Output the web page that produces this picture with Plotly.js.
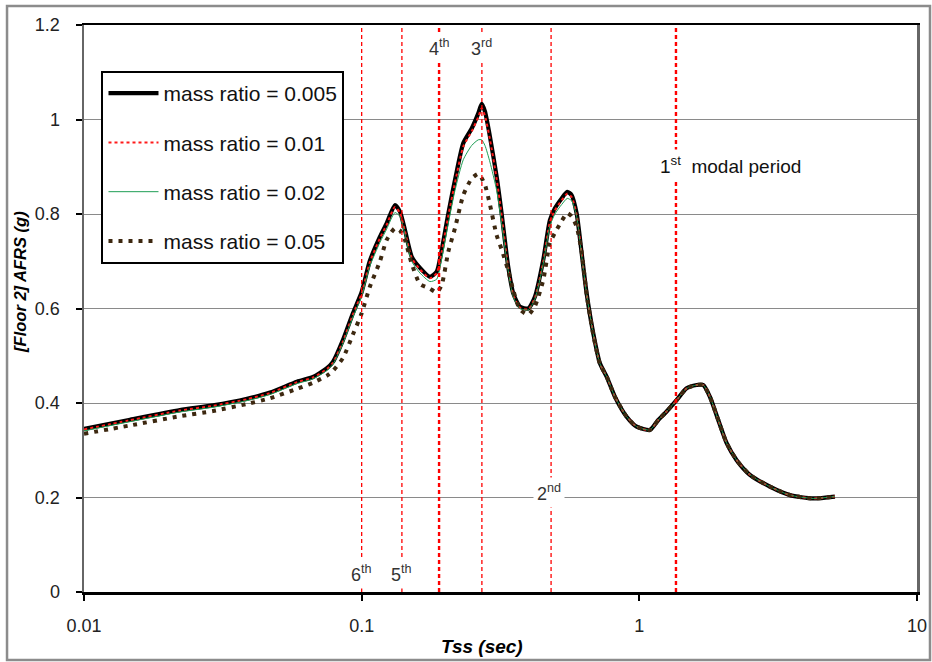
<!DOCTYPE html>
<html>
<head>
<meta charset="utf-8">
<script src="https://cdn.plot.ly/plotly-3.0.1.min.js"></script>
<style>
  html, body { margin: 0; padding: 0; background: #ffffff; }
  #chart { width: 932px; height: 662px; }
</style>
</head>
<body>
<div id="chart"></div>
<script>
// ---------------- DATA ----------------
const periods = [
  0.01, 0.0145, 0.02216, 0.02914, 0.03864, 0.04675, 0.05848, 0.06677, 0.0750, 0.0788,
  0.0856, 0.0930, 0.1, 0.1069, 0.1164, 0.1230, 0.1318, 0.1374, 0.1432, 0.1514,
  0.1622, 0.1762, 0.1863, 0.1942, 0.2051, 0.2168, 0.2323, 0.2490, 0.2630, 0.2705,
  0.2780, 0.2897, 0.3063, 0.3192, 0.3372, 0.3515, 0.3715, 0.3981, 0.4207, 0.4508,
  0.4764, 0.4966, 0.5251, 0.5500, 0.5705, 0.5947, 0.6199, 0.6460, 0.6823, 0.7212,
  0.7624, 0.8169, 0.9000, 0.9779, 1.092, 1.170, 1.254, 1.362, 1.480, 1.608,
  1.699, 1.796, 1.924, 2.063, 2.241, 2.502, 2.953, 3.486, 4.229, 5.063
];

const afrsMass0005 = [
  0.345,0.364,0.385,0.395,0.409,0.422,0.445,0.455,0.474,0.487,
  0.533,0.590,0.635,0.700,0.752,0.780,0.819,0.805,0.766,0.710,
  0.686,0.667,0.678,0.724,0.801,0.872,0.950,0.981,1.013,1.033,
  1.017,0.964,0.879,0.801,0.688,0.632,0.604,0.600,0.625,0.703,
  0.787,0.812,0.833,0.847,0.840,0.801,0.717,0.632,0.548,0.484,
  0.456,0.413,0.371,0.350,0.343,0.364,0.382,0.406,0.431,0.438,
  0.438,0.413,0.364,0.315,0.279,0.248,0.223,0.205,0.198,0.202
];

const afrsMass001 = [
  0.344,0.363,0.384,0.394,0.408,0.421,0.444,0.454,0.472,0.485,
  0.530,0.587,0.632,0.697,0.749,0.777,0.815,0.802,0.763,0.707,
  0.683,0.664,0.675,0.720,0.796,0.866,0.943,0.975,1.005,1.024,
  1.008,0.958,0.874,0.797,0.685,0.629,0.602,0.598,0.622,0.699,
  0.783,0.808,0.829,0.843,0.836,0.798,0.715,0.630,0.547,0.483,
  0.456,0.413,0.371,0.350,0.343,0.364,0.382,0.406,0.431,0.438,
  0.438,0.413,0.364,0.315,0.279,0.248,0.223,0.205,0.198,0.202
];

const afrsMass002 = [
  0.341,0.360,0.381,0.391,0.405,0.418,0.441,0.451,0.469,0.482,
  0.526,0.582,0.626,0.689,0.740,0.768,0.803,0.795,0.757,0.700,
  0.675,0.657,0.662,0.705,0.780,0.850,0.915,0.945,0.957,0.957,
  0.945,0.910,0.850,0.780,0.680,0.625,0.600,0.597,0.620,0.695,
  0.775,0.800,0.820,0.833,0.828,0.795,0.712,0.630,0.546,0.483,
  0.456,0.413,0.371,0.350,0.343,0.364,0.382,0.406,0.431,0.438,
  0.438,0.413,0.364,0.315,0.279,0.248,0.223,0.205,0.198,0.202
];

const afrsMass005 = [
  0.335,0.352,0.372,0.383,0.398,0.410,0.430,0.443,0.458,0.468,
  0.495,0.545,0.590,0.645,0.700,0.745,0.770,0.765,0.745,0.695,
  0.652,0.642,0.634,0.650,0.720,0.770,0.840,0.875,0.885,0.876,
  0.862,0.820,0.755,0.725,0.680,0.639,0.598,0.587,0.605,0.660,
  0.739,0.760,0.785,0.802,0.795,0.773,0.720,0.630,0.545,0.483,
  0.456,0.413,0.371,0.350,0.343,0.364,0.382,0.406,0.431,0.438,
  0.438,0.413,0.364,0.315,0.279,0.248,0.223,0.205,0.198,0.202
];

const seriesNames = [
  'mass ratio = 0.005',
  'mass ratio = 0.01',
  'mass ratio = 0.02',
  'mass ratio = 0.05'
];

// modal periods of the structure (sec) and their labels
const modalPeriods = [0.100, 0.1396, 0.190, 0.271, 0.481, 1.355];
const modalLabels = ['6<sup>th</sup>', '5<sup>th</sup>', '4<sup>th</sup>', '3<sup>rd</sup>', '2<sup>nd</sup>', '1<sup>st</sup>  modal period'];

const xTickVals = [0.01, 0.1, 1, 10];
const xTickText = ['0.01', '0.1', '1', '10'];

// ---------------- STYLE ----------------
const FONT = 'Liberation Sans, Arial, sans-serif';
const seriesStyles = [
  { color: '#000000', width: 4.2, dash: 'solid' },
  { color: '#ff1a1a', width: 2, dash: '3px,3px' },
  { color: '#1f9e55', width: 1, dash: 'solid' },
  { color: '#3d2810', width: 4, dash: '4px,6px' }
];
const modalLineWidths = [1.3, 1.3, 2.4, 1.3, 1.3, 2.4];
// label placement (y in data units, x shift in px, anchor)
const modalLabelPlace = [
  { y: 0.040, xshift: 0, xanchor: 'center', size: 18 },
  { y: 0.040, xshift: 0, xanchor: 'center', size: 18 },
  { y: 1.153, xshift: 0, xanchor: 'center', size: 18 },
  { y: 1.153, xshift: 0, xanchor: 'center', size: 18 },
  { y: 0.210, xshift: -2, xanchor: 'center', size: 18 },
  { y: 0.904, xshift: -20, xanchor: 'left', size: 19 }
];

const ySeries = [afrsMass0005, afrsMass001, afrsMass002, afrsMass005];

const traces = ySeries.map((ys, i) => ({
  type: 'scatter',
  mode: 'lines',
  x: periods,
  y: ys,
  name: seriesNames[i],
  legendgroup: 'g' + i,
  line: { color: seriesStyles[i].color, width: seriesStyles[i].width, dash: seriesStyles[i].dash, shape: 'spline', smoothing: 0.6 },
  hoverinfo: 'x+y+name'
}));

const shapes = modalPeriods.map((p, i) => ({
  type: 'line', xref: 'x', yref: 'y',
  x0: p, x1: p, y0: 0, y1: 1.2,
  line: { color: '#ff0000', width: modalLineWidths[i], dash: '4px,3px' },
  layer: 'above'
}));

// outer chart-area frame
shapes.push({
  type: 'rect', xref: 'paper', yref: 'paper',
  x0: -0.0924, x1: 1.0156, y0: -0.1199, y1: 1.0335,
  line: { color: '#8c8c8c', width: 2.5 },
  fillcolor: 'rgba(0,0,0,0)', layer: 'below'
});

const annotations = modalPeriods.map((p, i) => ({
  xref: 'x', yref: 'y',
  x: Math.log10(p), y: modalLabelPlace[i].y,
  text: modalLabels[i],
  showarrow: false,
  xanchor: modalLabelPlace[i].xanchor,
  yanchor: 'middle',
  xshift: modalLabelPlace[i].xshift,
  bgcolor: '#ffffff',
  borderpad: 3,
  font: { family: FONT, size: modalLabelPlace[i].size, color: i === 5 ? '#111111' : '#333333' }
}));

annotations.push({
  xref: 'paper', yref: 'paper', x: 0.478, y: -0.097,
  text: '<b><i>Tss (sec)</i></b>', showarrow: false,
  xanchor: 'center', yanchor: 'middle',
  font: { family: FONT, size: 19, color: '#000000' }
});
annotations.push({
  xref: 'paper', yref: 'paper', x: -0.0768, y: 0.547,
  text: '<b><i>[Floor 2] AFRS (g)</i></b>', showarrow: false,
  textangle: -90,
  xanchor: 'center', yanchor: 'middle',
  font: { family: FONT, size: 16.5, color: '#000000' }
});

const layout = {
  width: 932, height: 662,
  margin: { l: 84, r: 15, t: 25, b: 70, pad: 0 },
  paper_bgcolor: '#ffffff',
  plot_bgcolor: '#ffffff',
  showlegend: true,
  legend: {
    x: 0.021, y: 0.919, xanchor: 'left', yanchor: 'top',
    bgcolor: '#ffffff', bordercolor: '#000000', borderwidth: 2,
    font: { family: FONT, size: 21, color: '#111111' },
    itemwidth: 50,
    traceorder: 'grouped', tracegroupgap: 19
  },
  xaxis: {
    type: 'log',
    range: [-2, 1],
    tickvals: xTickVals, ticktext: xTickText,
    showgrid: false, zeroline: false,
    showline: true, linecolor: '#000000', linewidth: 2.5, mirror: true,
    ticks: 'outside', ticklen: 6, tickwidth: 2, tickcolor: '#000000',
    ticklabelstandoff: 10,
    tickfont: { family: FONT, size: 18, color: '#222222' }
  },
  yaxis: {
    range: [0, 1.2], dtick: 0.2, tick0: 0,
    showgrid: true, gridcolor: '#8a8a8a', gridwidth: 1,
    zeroline: false,
    showline: true, linecolor: '#666666', linewidth: 2.5, mirror: true,
    ticks: 'outside', ticklen: 6, tickwidth: 2, tickcolor: '#000000',
    ticklabelstandoff: 12,
    tickfont: { family: FONT, size: 18, color: '#222222' }
  },
  shapes: shapes,
  annotations: annotations
};

Plotly.newPlot('chart', traces, layout, { displayModeBar: false, staticPlot: true });
</script>
</body>
</html>
